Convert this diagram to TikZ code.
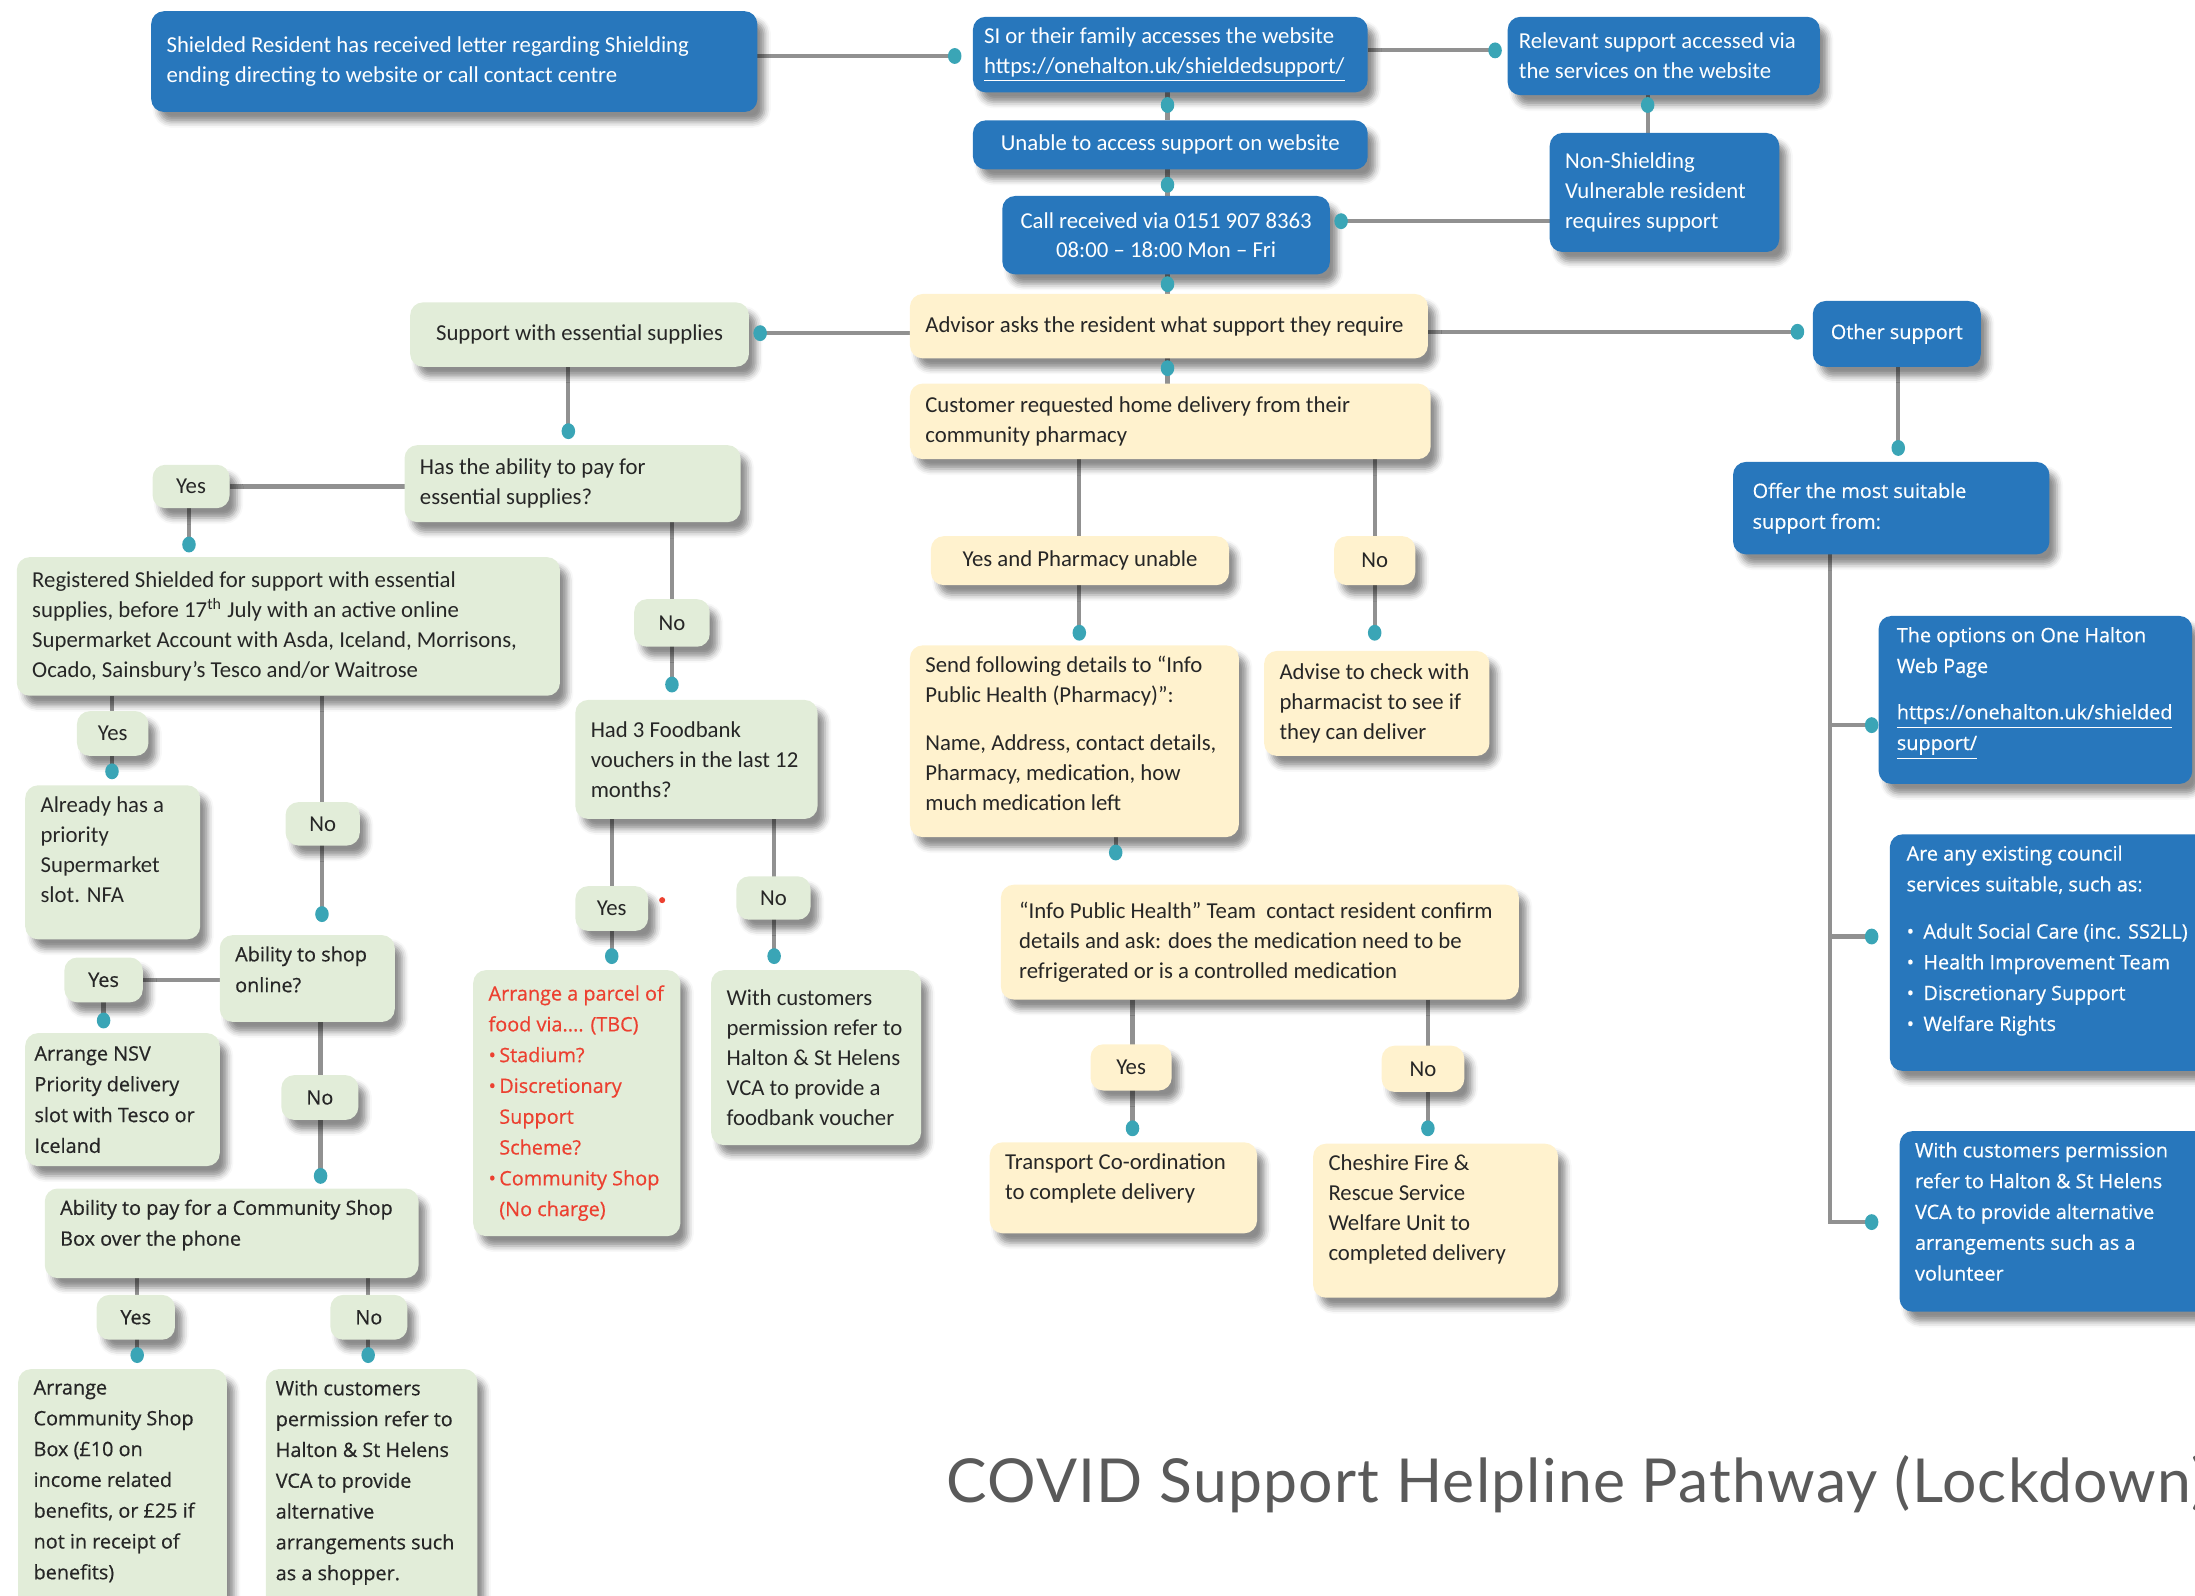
\documentclass[tikz,border=0pt]{standalone}
\usepackage{fontspec}
\setmainfont{Carlito}
\newfontfamily\osans[FakeBold=0.5]{Open Sans}
\newfontfamily\titlefont[LetterSpace=2]{Lato}
\usetikzlibrary{shadows.blur}

\definecolor{hblue}{RGB}{40,119,188}
\definecolor{hgreen}{RGB}{226,237,217}
\definecolor{hyellow}{RGB}{255,242,206}
\definecolor{hline}{RGB}{145,145,145}
\definecolor{hdot}{RGB}{58,165,182}
\definecolor{htext}{RGB}{38,38,38}
\definecolor{hred}{RGB}{236,64,48}
\definecolor{htitle}{RGB}{90,90,90}

% one drawing unit
\newlength\pxu
\setlength\pxu{0.6pt}
% horizontal padding of a card (set per card through the pad key)
\def\bxpad{6.6pt}
% box body: [vertical position]{width}{height}{text}, sizes in drawing units
\newcommand\bx[4][c]{\parbox[c][\dimexpr#3\pxu-9.6pt\relax][#1]{\dimexpr#2\pxu-2\dimexpr\bxpad\relax\relax}{\raggedright#4}}

\pgfdeclarelayer{back}
\pgfdeclarelayer{lines}
\pgfsetlayers{back,lines,main}

\tikzset{
  pad/.code={\def\bxpad{#1}\tikzset{inner xsep=#1}},
  card/.style={rounded corners=5.5pt, pad=6.6pt, inner ysep=4.8pt,
    outer sep=0pt, anchor=north west,
    blur shadow={shadow xshift=3.2pt, shadow yshift=-4.2pt,
      shadow blur radius=2.6pt, shadow opacity=45}},
  bluecard/.style={card, fill=hblue, text=white},
  greencard/.style={card, fill=hgreen, text=htext},
  yellowcard/.style={card, fill=hyellow, text=htext},
  cal/.style={font=\fontsize{9.76pt}{12.84pt}\selectfont},
  ops/.style={font=\osans\fontsize{8.5pt}{13.2pt}\selectfont},
  conn/.style={draw=hline, line width=1.8pt},
}

\begin{document}
\begin{tikzpicture}[x=0.6pt, y=-0.6pt]
\begin{pgfonlayer}{back}
  \fill[white] (0,0) rectangle (1568,1140);
\end{pgfonlayer}
\useasboundingbox (0,0) rectangle (1568,1140);

% warm-up card far outside the page, so every visible shadow is faded
\node[card, fill=white] (warmup) at (-3000,-3000) {};

% ---------- entry and call centre ----------
\node[bluecard, cal] (b1) at (108,8) {\bx{433}{72}{Shielded Resident has received letter regarding Shielding\\ending directing to website or call contact centre}};
\node[bluecard, cal, pad=4.8pt] (b2) at (695,12) {\bx{282}{54}{SI or their family accesses the website\\\underline{https://onehalton.uk/shieldedsupport/}}};
\node[bluecard, cal, pad=4.8pt] (b3) at (1077,12) {\bx{223}{56}{Relevant support accessed via\\the services on the website}};
\node[bluecard, cal] (b4) at (695,86) {\bx{282}{35}{\centering Unable to access support on website}};
\node[bluecard, cal] (b5) at (716,140) {\bx{234}{56}{\centering Call received via 0151 907 8363\\08:00 – 18:00 Mon – Fri}};
\node[bluecard, cal] (b6) at (1107,95) {\bx{164}{85}{Non-Shielding\\Vulnerable resident\\requires support}};
\node[yellowcard, cal] (b7) at (650,210) {\bx{370}{46}{Advisor asks the resident what support they require}};
\node[greencard, cal] (b8) at (293,216) {\bx{242}{46}{\centering Support with essential supplies}};
\node[bluecard, ops] (b9) at (1295,215) {\bx{120}{47}{\centering Other support}};
\node[yellowcard, cal] (b10) at (650,274) {\bx{372}{54}{Customer requested home delivery from their\\community pharmacy}};

% ---------- essential supplies ----------
\node[greencard, cal] (b11) at (289,318) {\bx{240}{55}{Has the ability to pay for\\essential supplies?}};
\node[greencard, cal] (yes1) at (109,332) {\bx{55}{31}{\centering Yes}};
\node[greencard, cal] (b12) at (12,398) {\bx{388}{99}{Registered Shielded for support with essential\\supplies, before 17\textsuperscript{th} July with an active online\\Supermarket Account with Asda, Iceland, Morrisons,\\Ocado, Sainsbury’s Tesco and/or Waitrose}};
\node[greencard, cal] (no1) at (453,428) {\bx{54}{34}{\centering No}};
\node[greencard, cal] (b13) at (411,500) {\bx{173}{85}{Had 3 Foodbank\\vouchers in the last 12\\months?}};
\node[greencard, cal] (yes2) at (55,508) {\bx{51}{32}{\centering Yes}};
\node[greencard, cal] (b14) at (18,561) {\bx[t]{125}{110}{Already has a\\priority\\Supermarket\\slot. NFA}};
\node[greencard, cal] (no2) at (204,573) {\bx{53}{31}{\centering No}};
\node[greencard, ops] (b15) at (157,668) {\bx[t]{125}{62}{Ability to shop\\online?}};
\node[greencard, ops] (yes3) at (46,684) {\bx{56}{32}{\centering Yes}};
\node[greencard, ops, pad=4pt] (b16) at (18,738) {\bx{139}{95}{Arrange NSV\\Priority delivery\\slot with Tesco or\\Iceland}};
\node[greencard, ops] (no3) at (201,768) {\bx{55}{32}{\centering No}};
\node[greencard, ops] (b17) at (32,849) {\bx[t]{267}{64}{Ability to pay for a Community Shop\\Box over the phone}};
\node[greencard, ops] (yes4) at (69,925) {\bx{56}{32}{\centering Yes}};
\node[greencard, ops] (no4) at (236,925) {\bx{55}{32}{\centering No}};
\node[greencard, ops] (b18) at (13,978) {\bx[t]{149}{172}{Arrange\\Community Shop\\Box (£10 on\\income related\\benefits, or £25 if\\not in receipt of\\benefits)}};
\node[greencard, ops, pad=4.2pt] (b19) at (190,978) {\bx[t]{151}{172}{With customers\\permission refer to\\Halton \& St Helens\\VCA to provide\\alternative\\arrangements such\\as a shopper.}};

% ---------- foodbank ----------
\node[greencard, cal] (yes5) at (411,633) {\bx{52}{32}{\centering Yes}};
\node[greencard, cal] (no5) at (526,626) {\bx{53}{31}{\centering No}};
\node[greencard, ops, text=hred] (b20) at (338,693) {\bx{148}{190}{Arrange a parcel of\\food via.... (TBC)\\•\,Stadium?\\•\,Discretionary\\\phantom{•\,}Support\\\phantom{•\,}Scheme?\\•\,Community Shop\\\phantom{•\,}(No charge)}};
\node[greencard, cal] (b21) at (508,693) {\bx{150}{125}{With customers\\permission refer to\\Halton \& St Helens\\VCA to provide a\\foodbank voucher}};

% ---------- pharmacy ----------
\node[yellowcard, cal] (yes6) at (665,383) {\bx{213}{35}{\centering Yes and Pharmacy unable}};
\node[yellowcard, cal] (no6) at (953,383) {\bx{58}{35}{\centering No}};
\node[yellowcard, cal] (b22) at (650,461) {\bx[t]{235}{137}{Send following details to “Info\\Public Health (Pharmacy)”:\\[7.5pt]Name, Address, contact details,\\Pharmacy, medication, how\\much medication left}};
\node[yellowcard, cal] (b23) at (903,465) {\bx{161}{75}{Advise to check with\\pharmacist to see if\\they can deliver}};
\node[yellowcard, cal, pad=7.8pt] (b24) at (715,632) {\bx{370}{82}{“Info Public Health” Team\ \ contact resident confirm\\details and ask: does the medication need to be\\refrigerated or is a controlled medication}};
\node[yellowcard, cal] (yes7) at (779,746) {\bx{58}{33}{\centering Yes}};
\node[yellowcard, cal] (no7) at (987,747) {\bx{59}{33}{\centering No}};
\node[yellowcard, cal] (b25) at (707,816) {\bx[t]{191}{65}{Transport Co-ordination\\to complete delivery}};
\node[yellowcard, cal] (b26) at (938,817) {\bx[t]{175}{110}{Cheshire Fire \&\\Rescue Service\\Welfare Unit to\\completed delivery}};

% ---------- other support ----------
\node[bluecard, ops, pad=8.4pt] (b27) at (1238,330) {\bx{226}{66}{Offer the most suitable\\support from:}};
\node[bluecard, ops, pad=7.8pt] (b28) at (1342,440) {\bx[t]{224}{120}{The options on One Halton\\Web Page\\[6.6pt]\underline{https://onehalton.uk/shielded}\\\underline{support/}}};
\node[bluecard, ops, pad=7.2pt] (b29) at (1350,596) {\bx[t]{240}{169}{Are any existing council\\services suitable, such as:\\[7pt]•\hspace{4pt}Adult Social Care (inc. SS2LL)\\•\hspace{4pt}Health Improvement Team\\•\hspace{4pt}Discretionary Support\\•\hspace{4pt}Welfare Rights}};
\node[bluecard, ops] (b30) at (1357,808) {\bx[t]{233}{129}{With customers permission\\refer to Halton \& St Helens\\VCA to provide alternative\\arrangements such as a\\volunteer}};

% ---------- title ----------
\node[anchor=base west, inner sep=0pt, text=htitle,
  font=\titlefont\fontsize{26pt}{30pt}\selectfont] (title) at (676,1073)
  {COVID Support Helpline Pathway (Lockdown)};

% ---------- connector end points ----------
\coordinate (d1) at (682,40);
\coordinate (d2) at (1068,36);
\coordinate (d3) at (834,75);
\coordinate (d4) at (1177,75);
\coordinate (d5) at (834,132);
\coordinate (d6) at (958,158);
\coordinate (d7) at (834,203);
\coordinate (d8) at (543,238);
\coordinate (d9) at (1284,237);
\coordinate (d10) at (834,263);
\coordinate (d11) at (406,308);
\coordinate (d12) at (135,389);
\coordinate (d13) at (480,489);
\coordinate (d14) at (80,551);
\coordinate (d15) at (230,653);
\coordinate (d16) at (74,729);
\coordinate (d17) at (229,840);
\coordinate (d18) at (98,968);
\coordinate (d19) at (263,968);
\coordinate (d20) at (437,683);
\coordinate (d21) at (553,683);
\coordinate (d22) at (771,452);
\coordinate (d23) at (982,452);
\coordinate (d24) at (797,609);
\coordinate (d25) at (809,806);
\coordinate (d26) at (1020,806);
\coordinate (d27) at (1356,320);
\coordinate (d28) at (1337,518);
\coordinate (d29) at (1337,669);
\coordinate (d30) at (1337,873);
\coordinate (trunk) at (1307,873);

\begin{pgfonlayer}{lines}
  \draw[conn] (b1.east |- d1) -- (d1);
  \draw[conn] (b2.east |- d2) -- (d2);
  \draw[conn] (d3 |- b2.south) -- (d3 |- b4.north);
  \draw[conn] (d4 |- b3.south) -- (d4 |- b6.north);
  \draw[conn] (d5 |- b4.south) -- (d5 |- b5.north);
  \draw[conn] (b6.west |- d6) -- (d6);
  \draw[conn] (d7 |- b5.south) -- (d7 |- b7.north);
  \draw[conn] (b7.west |- d8) -- (d8);
  \draw[conn] (b7.east |- d9) -- (d9);
  \draw[conn] (d10 |- b7.south) -- (d10 |- b10.north);
  \draw[conn] (d11 |- b8.south) -- (d11);
  \draw[conn] (b11.west |- yes1) -- (yes1.east);
  \draw[conn] (d12 |- yes1.south) -- (d12);
  \draw[conn] (d13 |- b11.south) -- (d13);
  \draw[conn] (d14 |- b12.south) -- (d14);
  \draw[conn] (d15 |- b12.south) -- (d15);
  \draw[conn] (b15.west |- yes3) -- (yes3.east);
  \draw[conn] (d16 |- yes3.south) -- (d16);
  \draw[conn] (d17 |- b15.south) -- (d17);
  \draw[conn] (d18 |- b17.south) -- (d18);
  \draw[conn] (d19 |- b17.south) -- (d19);
  \draw[conn] (d20 |- b13.south) -- (d20);
  \draw[conn] (d21 |- b13.south) -- (d21);
  \draw[conn] (d22 |- b10.south) -- (d22);
  \draw[conn] (d23 |- b10.south) -- (d23);
  \draw[conn] (d24 |- b22.south) -- (d24);
  \draw[conn] (d25 |- b24.south) -- (d25);
  \draw[conn] (d26 |- b24.south) -- (d26);
  \draw[conn] (d27 |- b9.south) -- (d27);
  \draw[conn] (trunk |- b27.south) -- (trunk) -- (d30);
  \draw[conn] (trunk |- d28) -- (d28);
  \draw[conn] (trunk |- d29) -- (d29);
\end{pgfonlayer}

% connector end dots
\foreach \d in {d1,d2,d3,d4,d5,d6,d7,d8,d9,d10,d11,d12,d13,d14,d15,d16,d17,d18,d19,d20,d21,d22,d23,d24,d25,d26,d27,d28,d29,d30}
  \fill[hdot] (\d) ellipse [x radius=2.9pt, y radius=3.4pt];

\fill[hred] (473,643) circle [radius=1.3pt];
\end{tikzpicture}
\end{document}
